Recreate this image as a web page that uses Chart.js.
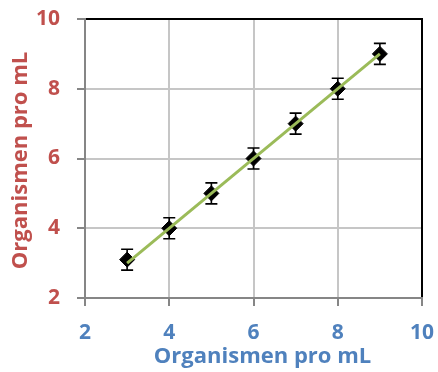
<!DOCTYPE html>
<html>
<head>
<meta charset="utf-8">
<script src="https://cdn.jsdelivr.net/npm/chart.js@4.4.0/dist/chart.umd.min.js"></script>
<style>
  html, body { margin: 0; padding: 0; background: #fff; }
  #wrap { width: 438px; height: 372px; }
</style>
</head>
<body>
<div id="wrap"><canvas id="chart" width="438" height="372"></canvas></div>
<script>
// ==========================================
// Data
// ==========================================
const xValues = [3, 4, 5, 6, 7, 8, 9];
const yValues = [3.1, 4.0, 5.0, 6.0, 7.0, 8.0, 9.0];
const yErrors = [0.3, 0.3, 0.3, 0.3, 0.3, 0.3, 0.3];
const trendX = [3, 9];
const trendY = [3, 9];
const xTicks = [2, 4, 6, 8, 10];
const yTicks = [2, 4, 6, 8, 10];
const xTitle = 'Organismen pro mL';
const yTitle = 'Organismen pro mL';

const RED = '#C0504D';
const BLUE = '#4F81BD';
const GREEN = '#9BBB59';
const GRID = '#C6C6C6';
const AXIS = '#868686';
const FONT = '"Open Sans", Lato, sans-serif';

// Error bars, drawn under the markers
const errorBarPlugin = {
    id: 'errorBars',
    beforeDatasetsDraw(chart) {
        const ctx = chart.ctx;
        const xs = chart.scales.x;
        const ys = chart.scales.y;
        ctx.save();
        ctx.strokeStyle = '#000';
        ctx.lineWidth = 1.6;
        xValues.forEach((xv, i) => {
            const px = xs.getPixelForValue(xv);
            const top = ys.getPixelForValue(yValues[i] + yErrors[i]);
            const bot = ys.getPixelForValue(yValues[i] - yErrors[i]);
            ctx.beginPath();
            ctx.moveTo(px, top); ctx.lineTo(px, bot);
            ctx.moveTo(px - 6, top); ctx.lineTo(px + 6, top);
            ctx.moveTo(px - 6, bot); ctx.lineTo(px + 6, bot);
            ctx.stroke();
        });
        ctx.restore();
    }
};

// Frame: black top/right, gray left/bottom, plus axis titles
const framePlugin = {
    id: 'frame',
    afterDatasetsDraw(chart) {
        const { ctx, chartArea: a } = chart;
        ctx.save();
        ctx.lineWidth = 2;
        ctx.strokeStyle = '#000';
        ctx.beginPath();
        ctx.moveTo(a.left, a.top); ctx.lineTo(a.right, a.top); ctx.lineTo(a.right, a.bottom);
        ctx.stroke();
        ctx.strokeStyle = AXIS;
        ctx.beginPath();
        ctx.moveTo(a.left, a.top - 1); ctx.lineTo(a.left, a.bottom); ctx.lineTo(a.right + 1, a.bottom);
        ctx.stroke();
        ctx.restore();
    },
    afterDraw(chart) {
        const { ctx, chartArea: a } = chart;
        ctx.save();
        ctx.font = `bold 22px ${FONT}`;
        ctx.textAlign = 'center';
        ctx.textBaseline = 'middle';
        ctx.fillStyle = BLUE;
        ctx.fillText(xTitle, a.left + (a.right - a.left) / 2 + 9, 357);
        ctx.translate(21, a.top + (a.bottom - a.top) / 2 + 2);
        ctx.rotate(-Math.PI / 2);
        ctx.fillStyle = RED;
        ctx.fillText(yTitle, 0, 0);
        ctx.restore();
    }
};

// keep the plot area where the picture has it
function noScalePadding(s) {
    s.paddingTop = 0; s.paddingBottom = 0;
    s.paddingLeft = 0; s.paddingRight = 0;
}

const ctx = document.getElementById('chart');
new Chart(ctx, {
    type: 'scatter',
    data: {
        datasets: [
            {
                type: 'line',
                label: 'trend',
                data: trendX.map((x, i) => ({ x: x, y: trendY[i] })),
                borderColor: GREEN,
                borderWidth: 3,
                pointRadius: 0,
                fill: false
            },
            {
                label: 'Messwerte',
                data: xValues.map((x, i) => ({ x: x, y: yValues[i] })),
                pointStyle: 'rectRot',
                pointRadius: 7.5,
                backgroundColor: '#000',
                borderColor: '#000',
                borderWidth: 1
            }
        ]
    },
    options: {
        responsive: false,
        animation: false,
        layout: { padding: { top: 19, right: 16, left: 0, bottom: 0 } },
        plugins: { legend: { display: false }, tooltip: { enabled: false } },
        scales: {
            x: {
                type: 'linear',
                min: 2, max: 10,
                afterBuildTicks: s => { s.ticks = xTicks.map(v => ({ value: v })); },
                afterFit: s => { s.height = 74; noScalePadding(s); },
                grid: { color: GRID, lineWidth: 2, tickLength: 8, tickColor: AXIS, drawTicks: true },
                border: { display: false },
                ticks: { color: BLUE, font: { family: FONT, size: 21, weight: 'bold' }, padding: 14, maxRotation: 0 }
            },
            y: {
                type: 'linear',
                min: 2, max: 10,
                afterBuildTicks: s => { s.ticks = yTicks.map(v => ({ value: v })); },
                afterFit: s => { s.width = 85; noScalePadding(s); },
                grid: { color: GRID, lineWidth: 2, tickLength: 8, tickColor: AXIS, drawTicks: true },
                border: { display: false },
                ticks: { color: RED, font: { family: FONT, size: 21, weight: 'bold' }, padding: 17 }
            }
        }
    },
    plugins: [errorBarPlugin, framePlugin]
});
</script>
</body>
</html>
